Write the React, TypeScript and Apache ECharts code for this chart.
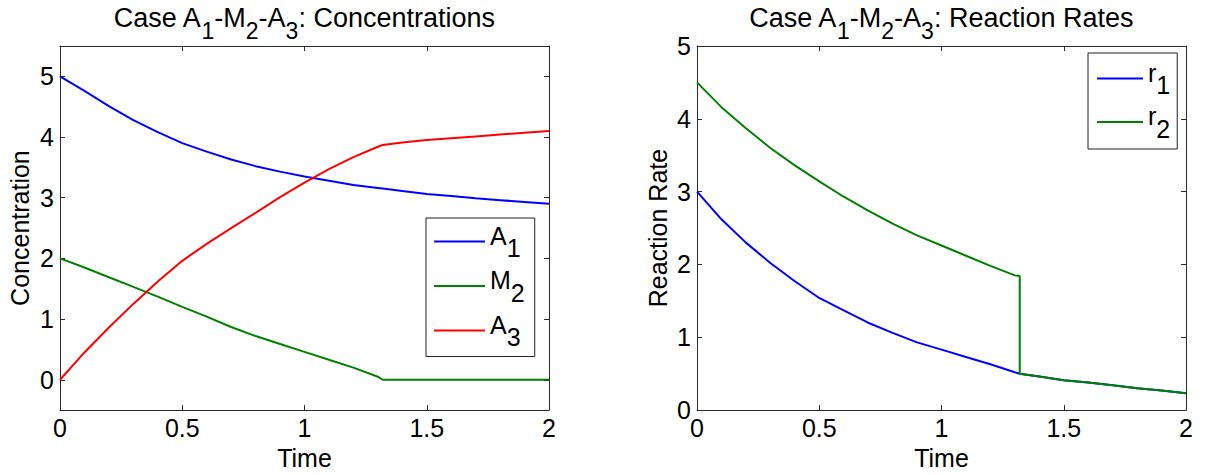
import React, { useEffect, useRef } from 'react';
import * as echarts from 'echarts';

// time samples (1.32 is where M2 is depleted)
const T = [0, 0.1, 0.2, 0.3, 0.4, 0.5, 0.6, 0.7, 0.8, 0.9, 1.0, 1.1, 1.2, 1.3, 1.32, 1.4, 1.5, 1.6, 1.7, 1.8, 1.9, 2.0];
const A1 = [5.0, 4.76, 4.51, 4.28, 4.08, 3.9, 3.76, 3.63, 3.52, 3.43, 3.35, 3.28, 3.21, 3.16, 3.15, 3.11, 3.06, 3.03, 2.99, 2.96, 2.93, 2.9];
const M2 = [2.0, 1.85, 1.69, 1.53, 1.37, 1.2, 1.04, 0.87, 0.72, 0.59, 0.46, 0.33, 0.2, 0.05, 0.0, 0, 0, 0, 0, 0, 0, 0];
const A3 = [0, 0.45, 0.86, 1.25, 1.62, 1.96, 2.24, 2.5, 2.75, 3.01, 3.25, 3.47, 3.67, 3.84, 3.87, 3.91, 3.95, 3.98, 4.01, 4.04, 4.07, 4.1];

const R1 = [3.0, 2.62, 2.3, 2.02, 1.77, 1.54, 1.37, 1.2, 1.06, 0.93, 0.83, 0.73, 0.63, 0.52, 0.5, 0.46, 0.41, 0.38, 0.34, 0.3, 0.27, 0.23];
const T2 = [0, 0.1, 0.2, 0.3, 0.4, 0.5, 0.6, 0.7, 0.8, 0.9, 1.0, 1.1, 1.2, 1.3, 1.32, 1.32, 1.4, 1.5, 1.6, 1.7, 1.8, 1.9, 2.0];
const R2 = [4.5, 4.16, 3.87, 3.6, 3.36, 3.14, 2.93, 2.74, 2.56, 2.4, 2.26, 2.12, 1.98, 1.85, 1.84, 0.5, 0.46, 0.41, 0.38, 0.34, 0.3, 0.27, 0.23];

const X_TICKS = { min: 0, max: 2, interval: 0.5 };
const LEFT_Y = { min: -0.5, max: 5.5 };
const RIGHT_Y = { min: 0, max: 5, interval: 1 };

const FONT = 'Liberation Sans, Arial, sans-serif';
const AXIS_COLOR = '#2a2a2a';
const BLUE = '#0000ff';
const GREEN = '#008000';
const RED = '#ff0000';
const AX_FS = 25;

const pairs = (xs: number[], ys: number[]) => xs.map((x, i) => [x, ys[i]]);

const titleRich = {
  m: { fontSize: 27, color: '#000', fontFamily: FONT, padding: [0, 0, 13, 0] },
  s: { fontSize: 23, color: '#000', fontFamily: FONT, padding: [14, 0, 0, 0] },
};
const legendRich = {
  b: { fontSize: AX_FS, color: '#000', fontFamily: FONT, padding: [0, 0, 12, 0] },
  s: { fontSize: AX_FS, color: '#000', fontFamily: FONT, padding: [13, 0, 0, 0] },
};

const axisLineStyle = { show: true, onZero: false, lineStyle: { color: AXIS_COLOR, width: 1 } };
const tickStyle = { show: true, inside: true, length: 5, lineStyle: { color: AXIS_COLOR } };

function mainX(gridIndex: number) {
  return {
    type: 'value', gridIndex, ...X_TICKS, position: 'bottom',
    name: 'Time', nameLocation: 'middle', nameGap: 30,
    nameTextStyle: { fontSize: AX_FS, color: '#000', fontFamily: FONT },
    axisLine: axisLineStyle,
    axisTick: tickStyle,
    axisLabel: { show: true, margin: 5, fontSize: AX_FS, color: '#000', fontFamily: FONT },
    splitLine: { show: false },
  };
}
function topX(gridIndex: number) {
  return {
    type: 'value', gridIndex, ...X_TICKS, position: 'top',
    axisLine: axisLineStyle,
    axisTick: tickStyle,
    axisLabel: { show: false },
    splitLine: { show: false },
  };
}
function yAxisDef(gridIndex: number, range: any, position: string, name?: string, nameGap?: number) {
  const main = position === 'left';
  return {
    type: 'value', gridIndex, ...range, position,
    splitNumber: 6,
    name: main ? name : undefined,
    nameLocation: 'middle', nameGap,
    nameTextStyle: { fontSize: AX_FS, color: '#000', fontFamily: FONT },
    axisLine: axisLineStyle,
    axisTick: tickStyle,
    axisLabel: {
      show: main, margin: 6, fontSize: AX_FS, color: '#000', fontFamily: FONT,
      formatter: (v: number) => (Math.abs(v - Math.round(v)) < 1e-9 ? String(Math.round(v)) : ''),
    },
    splitLine: { show: false },
  };
}

const lineSeries = (name: string, data: number[][], color: string, xi: number, yi: number) => ({
  type: 'line', name, data, xAxisIndex: xi, yAxisIndex: yi,
  showSymbol: false, symbol: 'none', smooth: false,
  lineStyle: { color, width: 2 }, itemStyle: { color },
});

const legendFmt = (name: string) => `{b|${name[0]}}{s|${name.slice(1)}}`;

const option: any = {
  animation: false,
  backgroundColor: '#fff',
  title: [
    {
      text: '{m|Case A}{s|1}{m|-M}{s|2}{m|-A}{s|3}{m|: Concentrations}',
      left: 304, top: 4, textAlign: 'center', padding: 0,
      textStyle: { rich: titleRich, fontSize: 27, fontWeight: 'normal' },
    },
    {
      text: '{m|Case A}{s|1}{m|-M}{s|2}{m|-A}{s|3}{m|: Reaction Rates}',
      left: 941, top: 4, textAlign: 'center', padding: 0,
      textStyle: { rich: titleRich, fontSize: 27, fontWeight: 'normal' },
    },
  ],
  grid: [
    { left: 60, top: 46, width: 489, height: 367 },
    { left: 697, top: 46, width: 489, height: 367 },
  ],
  xAxis: [mainX(0), topX(0), mainX(1), topX(1)],
  yAxis: [
    yAxisDef(0, LEFT_Y, 'left', 'Concentration', 28),
    yAxisDef(0, LEFT_Y, 'right'),
    yAxisDef(1, RIGHT_Y, 'left', 'Reaction Rate', 27),
    yAxisDef(1, RIGHT_Y, 'right'),
  ],
  legend: [
    {
      data: ['A1', 'M2', 'A3'], orient: 'vertical', left: 426, top: 218,
      padding: [5, 10, 7, 8], itemGap: 7, itemWidth: 51, itemHeight: 2, icon: 'rect',
      borderColor: '#222', borderWidth: 1, backgroundColor: '#fff',
      formatter: legendFmt, textStyle: { rich: legendRich, fontSize: AX_FS },
    },
    {
      data: ['r1', 'r2'], orient: 'vertical', left: 1088, top: 53,
      padding: [7, 7, 8, 9], itemGap: 6, itemWidth: 46, itemHeight: 2, icon: 'rect',
      borderColor: '#222', borderWidth: 1, backgroundColor: '#fff',
      formatter: legendFmt, textStyle: { rich: legendRich, fontSize: AX_FS },
    },
  ],
  series: [
    lineSeries('A1', pairs(T, A1), BLUE, 0, 0),
    lineSeries('M2', pairs(T, M2), GREEN, 0, 0),
    lineSeries('A3', pairs(T, A3), RED, 0, 0),
    lineSeries('r1', pairs(T, R1), BLUE, 2, 2),
    lineSeries('r2', pairs(T2, R2), GREEN, 2, 2),
  ],
};

export default function App() {
  const ref = useRef<HTMLDivElement>(null);
  useEffect(() => {
    const chart = echarts.init(ref.current!, null, { renderer: 'svg' });
    chart.setOption(option);
    return () => chart.dispose();
  }, []);
  return (
    <div
      ref={ref}
      style={{ position: 'absolute', left: 0, top: 0, width: 1208, height: 475, background: '#fff' }}
    />
  );
}
